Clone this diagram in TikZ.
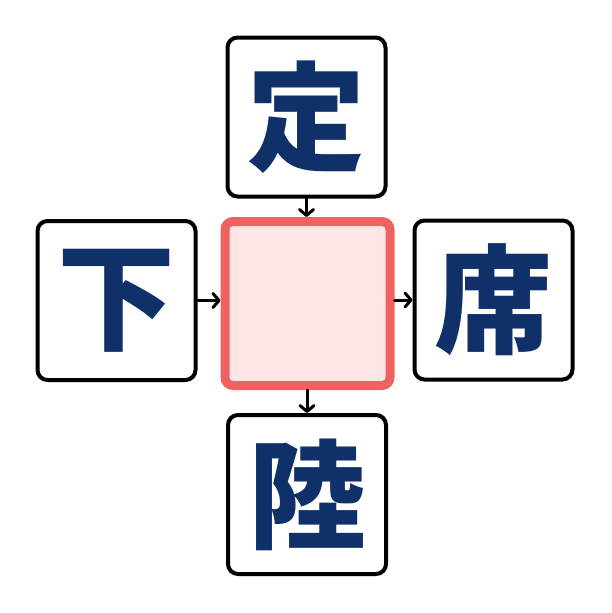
\documentclass[tikz,border=0pt]{standalone}
\usepackage{fontspec}
\newfontfamily\cjk{Noto Sans CJK JP}
\usetikzlibrary{arrows.meta}
\definecolor{navy}{HTML}{0F3068}
\definecolor{redline}{HTML}{F06262}
\definecolor{redfill}{HTML}{FFE6E6}
\begin{document}
\begin{tikzpicture}[x=1pt,y=-1pt,
  wordbox/.style={draw=black,line width=4pt,rounded corners=10pt,fill=white,
    minimum width=158pt,minimum height=159pt,inner sep=0pt,
    font=\cjk\bfseries\fontsize{118pt}{118pt}\selectfont,text=navy},
  centerbox/.style={draw=redline,line width=9pt,rounded corners=8pt,fill=redfill,
    minimum width=165pt,minimum height=164pt,inner sep=0pt},
  conn/.style={draw=black,line width=3pt,line cap=round,-{Straight Barb[length=6pt,width=14pt,line width=3pt,round]}}]
\useasboundingbox (0,0) rectangle (611,613);
\node[centerbox] (c) at (307.5,303.5) {};
\node[wordbox] (t) at (306.5,117) {定};
\node[wordbox] (l) at (116.5,300.5) {下};
\node[wordbox] (r) at (493.5,300) {席};
\node[wordbox] (b) at (307,494.5) {陸};
\draw[conn] (t.south) -- (t.south |- c.north);
\draw[conn] (b.north |- c.south) -- (b.north);
\draw[conn] (l.east) -- (c.west |- l.east);
\draw[conn] (c.east |- r.west) -- (r.west);
\end{tikzpicture}
\end{document}
